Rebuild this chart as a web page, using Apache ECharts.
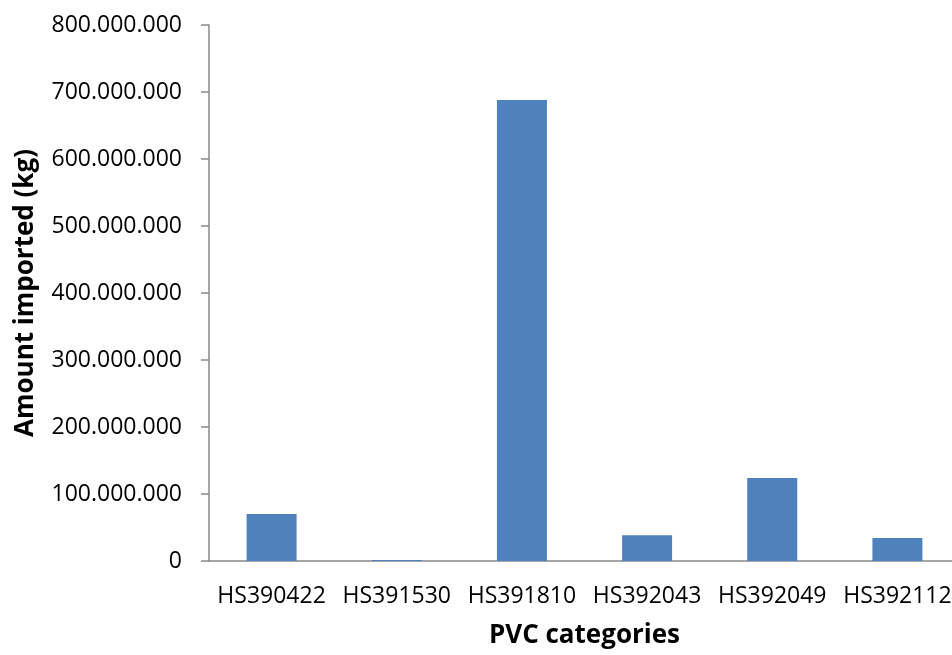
<!DOCTYPE html>
<html>
<head>
<meta charset="utf-8">
<title>PVC imports by category</title>
<script src="https://cdn.jsdelivr.net/npm/echarts@6/dist/echarts.min.js"></script>
<style>
  html, body { margin: 0; padding: 0; background: #ffffff; }
  #chart { width: 952px; height: 655px; }
</style>
</head>
<body>
<div id="chart"></div>
<script>
// PVC product categories (HS codes)
const categories = ['HS390422', 'HS391530', 'HS391810', 'HS392043', 'HS392049', 'HS392112'];
// Amount imported per category, in kg
const amounts = [70000000, 1500000, 688000000, 38500000, 124000000, 34500000];
// Value axis range and step
const yMin = 0;
const yMax = 800000000;
const yStep = 100000000;

// 800000000 -> "800.000.000"
function dotThousands(v) {
  return String(Math.round(v)).replace(/\B(?=(\d{3})+(?!\d))/g, '.');
}

const chart = echarts.init(document.getElementById('chart'), null, { renderer: 'canvas' });
const FONT = '"Open Sans", "Noto Sans", sans-serif';

chart.setOption({
  animation: false,
  backgroundColor: '#ffffff',
  grid: {
    left: 209,
    right: -8,
    top: 25,
    bottom: 94,
    outerBoundsMode: 'none'
  },
  xAxis: {
    type: 'category',
    data: categories,
    name: 'PVC categories',
    nameLocation: 'middle',
    nameGap: 62,
    nameTextStyle: { fontFamily: FONT, fontSize: 26, fontWeight: 'bold', color: '#000000' },
    axisLine: { show: true, lineStyle: { color: '#898989', width: 1.5 } },
    axisTick: { show: false },
    axisLabel: { fontFamily: FONT, fontSize: 23, color: '#000000', margin: 24, interval: 0 },
    splitLine: { show: false }
  },
  yAxis: {
    type: 'value',
    min: yMin,
    max: yMax,
    interval: yStep,
    name: 'Amount imported (kg)',
    nameLocation: 'middle',
    nameRotate: 90,
    nameGap: 170,
    nameTextStyle: { fontFamily: FONT, fontSize: 26, fontWeight: 'bold', color: '#000000' },
    axisLine: { show: true, lineStyle: { color: '#898989', width: 1.5 } },
    axisTick: { show: true, inside: false, length: 8, lineStyle: { color: '#898989', width: 1.5 } },
    axisLabel: {
      fontFamily: FONT,
      fontSize: 23,
      color: '#000000',
      margin: 27,
      formatter: dotThousands
    },
    splitLine: { show: false }
  },
  series: [{
    type: 'bar',
    data: amounts,
    barWidth: 50,
    itemStyle: { color: '#4F81BD' }
  }]
});
</script>
</body>
</html>
